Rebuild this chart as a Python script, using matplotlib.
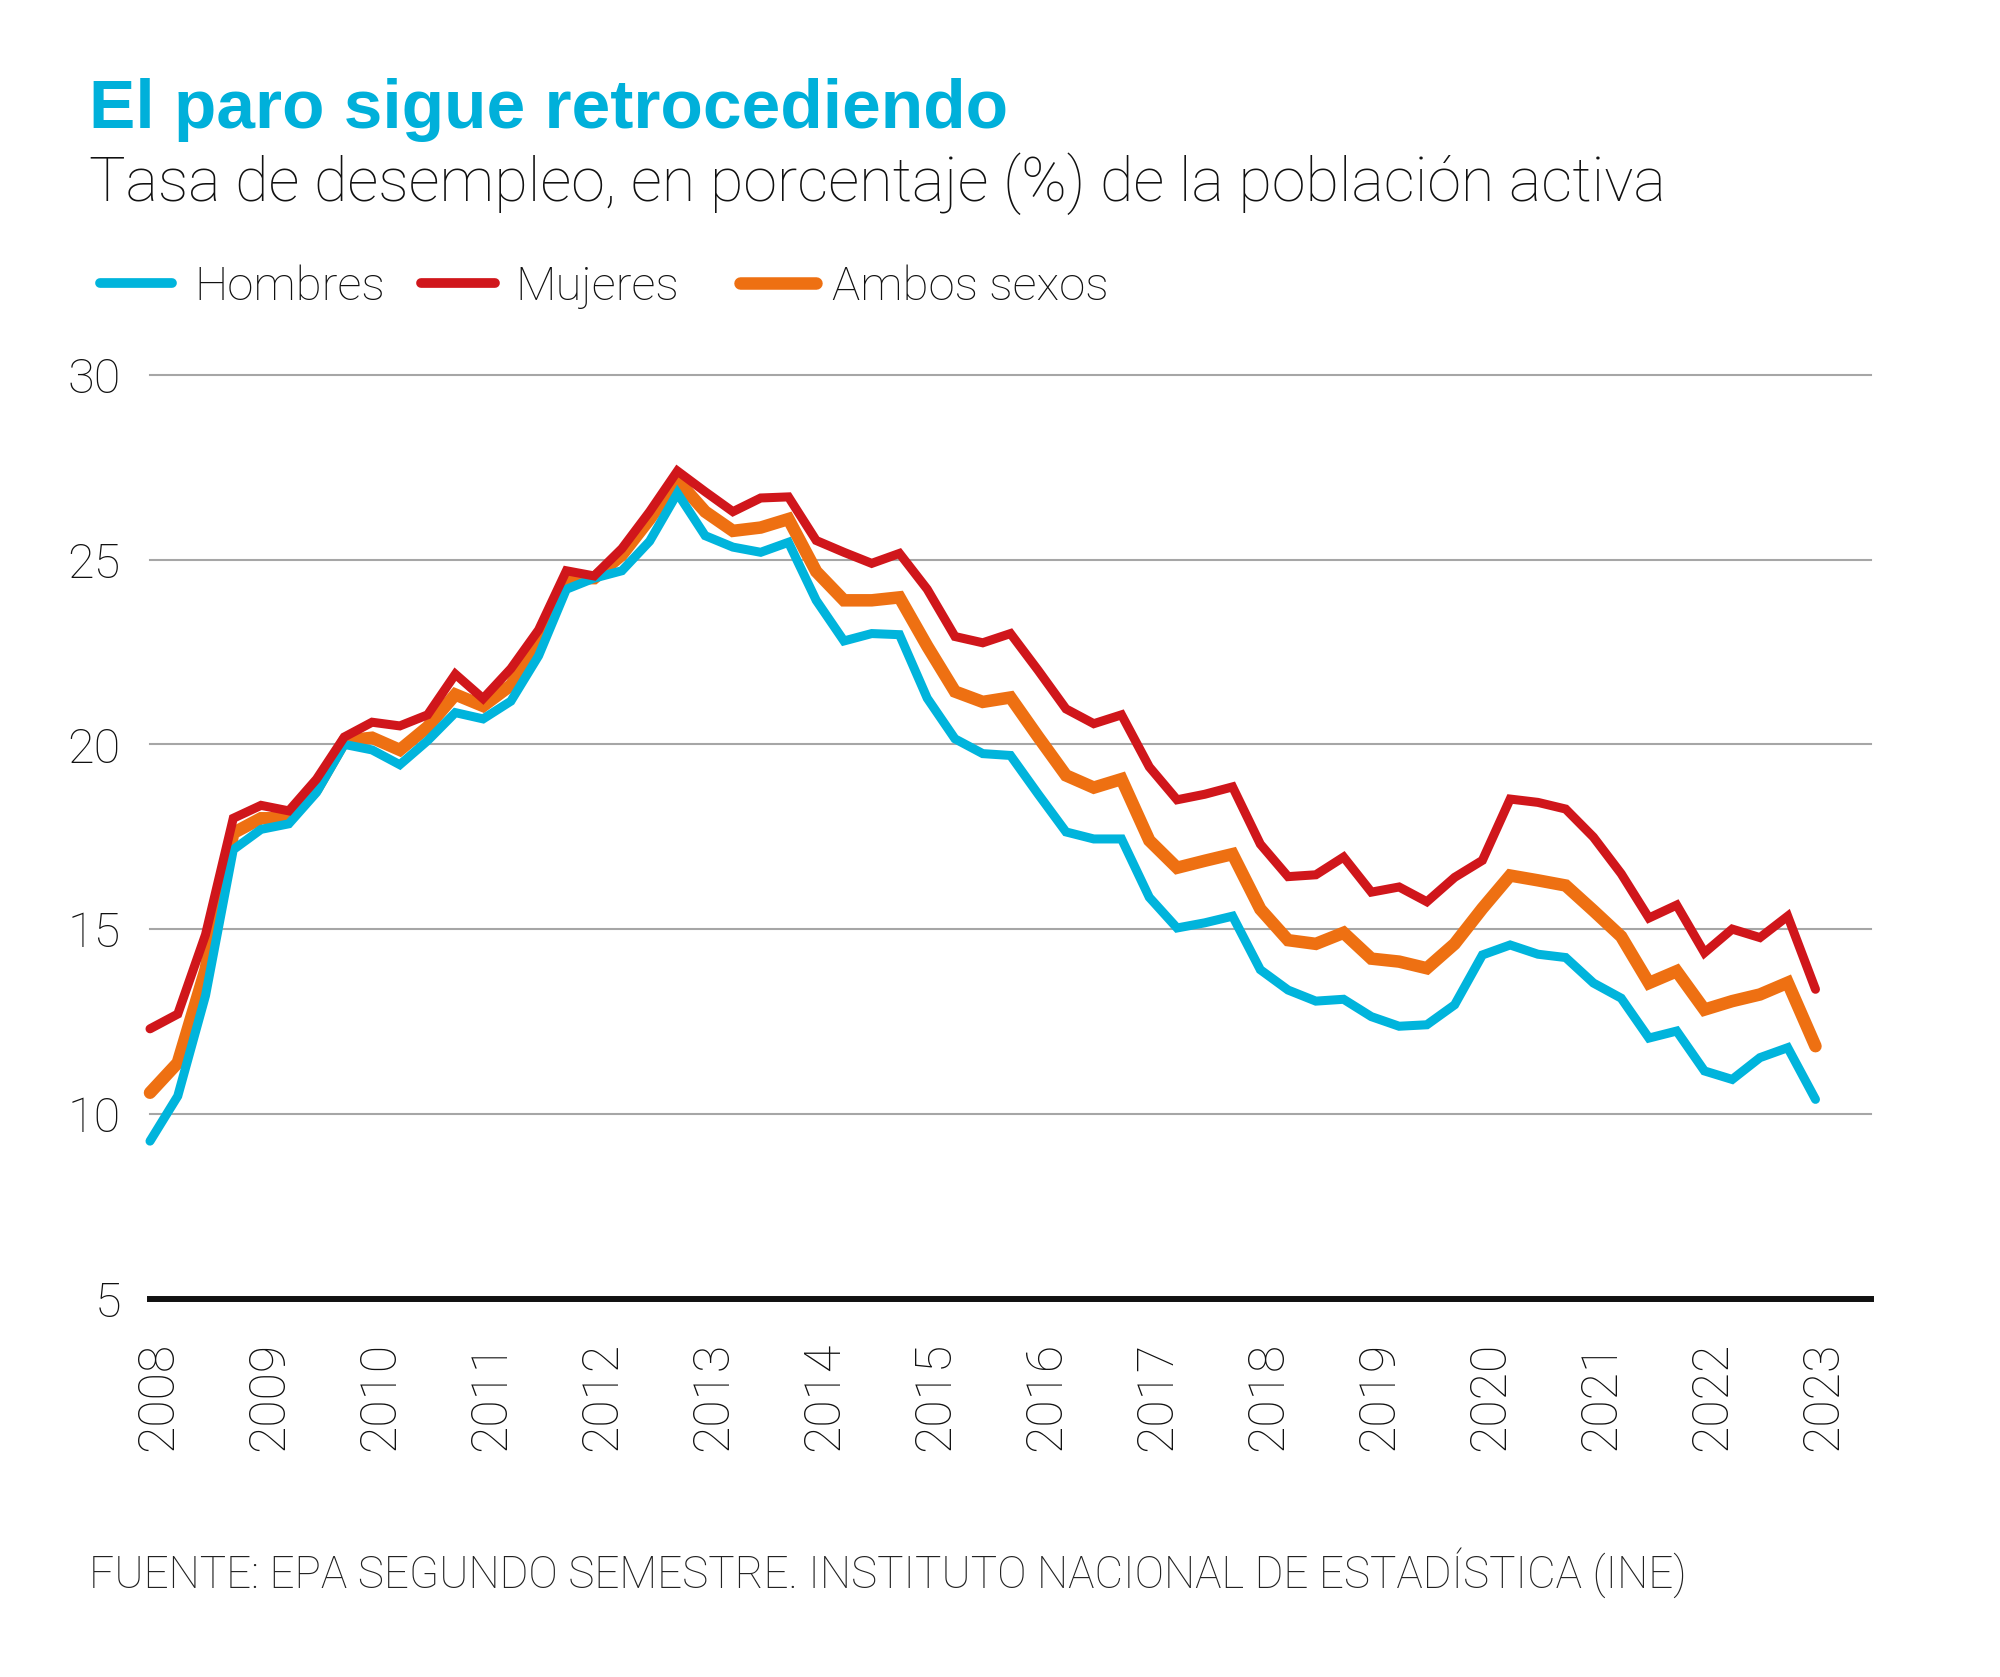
import matplotlib.pyplot as plt
from matplotlib.lines import Line2D
from matplotlib.transforms import ScaledTranslation

plt.rcParams['font.family'] = ['Roboto', 'DejaVu Sans']
plt.rcParams['font.weight'] = 'light'

# trimestres, 2008 -> 2023
years = [2008 + i * 0.25 for i in range(61)]
tick_years = list(range(2008, 2024))

hombres = [9.26, 10.48, 13.2, 17.15, 17.7, 17.85, 18.7, 20.0, 19.85, 19.45,
           20.1, 20.86, 20.69, 21.17, 22.4, 24.2, 24.5, 24.7, 25.5, 26.8,
           25.65, 25.34, 25.2, 25.47, 23.9, 22.8, 23.0, 22.97, 21.25, 20.15,
           19.75, 19.7, 18.65, 17.63, 17.44, 17.44, 15.86, 15.03, 15.17, 15.35,
           13.9, 13.35, 13.05, 13.1, 12.63, 12.37, 12.41, 12.95, 14.3, 14.57,
           14.32, 14.23, 13.54, 13.13, 12.05, 12.24, 11.16, 10.93, 11.52, 11.79,
           10.39]
mujeres = [12.3, 12.7, 14.85, 18.0, 18.35, 18.2, 19.06, 20.2, 20.6, 20.5,
           20.8, 21.9, 21.24, 22.05, 23.1, 24.7, 24.56, 25.3, 26.3, 27.4,
           26.84, 26.3, 26.67, 26.7, 25.52, 25.2, 24.9, 25.17, 24.2, 22.92,
           22.75, 23.0, 22.0, 20.96, 20.56, 20.8, 19.39, 18.5, 18.65, 18.85,
           17.3, 16.42, 16.47, 16.95, 16.0, 16.14, 15.74, 16.4, 16.86, 18.52,
           18.43, 18.25, 17.49, 16.5, 15.3, 15.65, 14.36, 15.0, 14.77, 15.35,
           13.37]
ambos = [10.57, 11.38, 13.9, 17.6, 18.0, 18.0, 18.8, 20.1, 20.18, 19.85,
         20.47, 21.35, 21.04, 21.6, 22.75, 24.5, 24.5, 25.13, 26.1, 27.15,
         26.3, 25.78, 25.87, 26.1, 24.68, 23.9, 23.9, 23.98, 22.66, 21.43,
         21.15, 21.27, 20.2, 19.16, 18.83, 19.06, 17.4, 16.66, 16.85, 17.03,
         15.54, 14.7, 14.6, 14.9, 14.2, 14.12, 13.94, 14.6, 15.56, 16.45,
         16.32, 16.18, 15.5, 14.8, 13.54, 13.86, 12.82, 13.05, 13.23, 13.55,
         11.83]

c_h = '#00B4DC'
c_m = '#D0161B'
c_a = '#EE7012'
txt = '#111111'

fig = plt.figure(figsize=(20, 16.77), dpi=100)
ax = fig.add_axes([0.075, 0.2257, 0.8605, 0.5507])

ax.plot(years, ambos, color=c_a, lw=9, solid_capstyle='round', solid_joinstyle='miter', clip_on=False, zorder=3)
ax.plot(years, hombres, color=c_h, lw=6.5, solid_capstyle='round', solid_joinstyle='miter', clip_on=False, zorder=4)
ax.plot(years, mujeres, color=c_m, lw=6.5, solid_capstyle='round', solid_joinstyle='miter', clip_on=False, zorder=5)

ax.set_xlim(2008, 2023.5)
ax.set_ylim(5, 30)
ax.set_yticks([5, 10, 15, 20, 25, 30])
ax.set_xticks(tick_years)
ax.set_xticklabels([str(y) for y in tick_years], rotation=90)
ax.grid(axis='y', color='#a6a6a6', lw=1.5, clip_on=False)
ax.set_axisbelow(True)
for s in ['top', 'right', 'left']:
    ax.spines[s].set_visible(False)
ax.spines['bottom'].set_color('#111111')
ax.spines['bottom'].set_linewidth(4.3)
ax.tick_params(length=0, colors=txt)
ax.tick_params(axis='y', pad=21, labelsize=35)
ax.tick_params(axis='x', pad=31, labelsize=36)
shift = ScaledTranslation(0.08, 0, fig.dpi_scale_trans)
for lab in ax.get_xticklabels():
    lab.set_transform(lab.get_transform() + shift)

fig.text(0.0445, 0.9237, 'El paro sigue retrocediendo', color='#00B0DA',
         fontsize=50, fontweight='bold', family=['Liberation Sans', 'DejaVu Sans'], va='baseline')
fig.text(0.0445, 0.8801, 'Tasa de desempleo, en porcentaje (%) de la población activa',
         color=txt, fontsize=44, va='baseline')

# leyenda
leg = [('Hombres', c_h, 0.050, 0.086, 0.097, 7),
       ('Mujeres', c_m, 0.2105, 0.2475, 0.2575, 7),
       ('Ambos sexos', c_a, 0.370, 0.408, 0.416, 9)]
for name, col, x0, x1, xt, w in leg:
    fig.add_artist(Line2D([x0, x1], [0.8312, 0.8312], color=col, lw=w,
                          solid_capstyle='round', transform=fig.transFigure))
    fig.text(xt, 0.8211, name, fontsize=34, color=txt, va='baseline')

fig.text(0.0445, 0.0531, 'FUENTE: EPA SEGUNDO SEMESTRE. INSTITUTO NACIONAL DE ESTADÍSTICA (INE)',
         fontsize=31.8, color='#222222', va='baseline')

fig.savefig('out.png', dpi=100)
